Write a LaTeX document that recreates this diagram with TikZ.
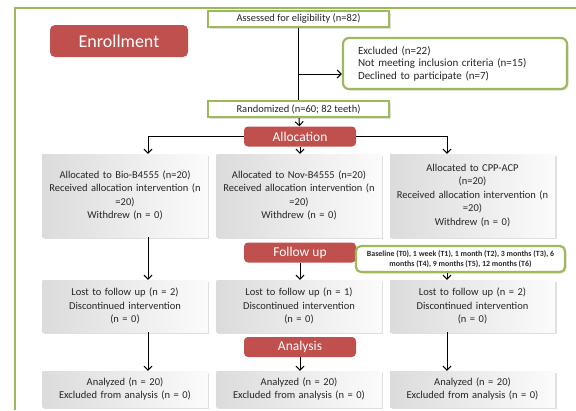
\documentclass[tikz,border=0pt]{standalone}
\usepackage{fontspec}
\setmainfont{Carlito}
\usetikzlibrary{positioning,arrows.meta,shadows}
\definecolor{stagered}{RGB}{192,80,77}
\definecolor{framegreen}{RGB}{155,187,89}

\begin{document}
\begin{tikzpicture}[x=1pt, y=-1pt,
  gbox/.style={draw=framegreen, line width=2.2pt, fill=white, text=black!85, font=\fontsize{10.5}{12.5}\selectfont, inner sep=2pt, drop shadow={opacity=0.25, shadow xshift=1.5pt, shadow yshift=-1.5pt}},
  stage/.style={fill=stagered, rounded corners=4pt, text=white, minimum width=112pt, minimum height=20pt, font=\fontsize{13.5}{15}\selectfont, inner sep=0pt},
  arm/.style={left color=gray!28, right color=gray!3, draw=none, align=center, text width=163pt, minimum width=165pt, inner sep=0pt, text=black!85, font=\fontsize{10.5}{13.5}\selectfont, drop shadow={opacity=0.25, shadow xshift=1.5pt, shadow yshift=-1.5pt}},
  arr/.style={-{Straight Barb[length=4pt,width=8pt]}, line width=1pt}]
\useasboundingbox (0,0) rectangle (576,410);
% frame
\draw[framegreen, line width=2pt] (15,410) -- (15,8) -- (576,8);
% enrollment
\node[stage, minimum width=138pt, minimum height=32pt, rounded corners=5pt, font=\fontsize{18}{20}\selectfont] (enrol) at (119,41) {Enrollment};
\node[gbox, minimum width=181pt, minimum height=16pt] (assess) at (298.5,19) {Assessed for eligibility (n=82)};
\node[gbox, rounded corners=6pt, minimum width=224pt, minimum height=51pt, align=left, text width=194pt, font=\fontsize{11}{12.5}\selectfont] (excl) at (455,63.5) {Excluded (n=22)\\Not meeting inclusion criteria (n=15)\\Declined to participate (n=7)};
\node[gbox, minimum width=181pt, minimum height=16pt] (rand) at (298.5,109) {Randomized (n=60; 82 teeth)};
\coordinate (split) at (298.5,74);
% allocation
\node[stage] (alloc) at (300,136.5) {Allocation};
\coordinate (colA) at (148,0);
\coordinate (colC) at (447,0);
\node[arm, minimum height=83pt] (bio) at (125,195.5) {Allocated to Bio-B4555 (n=20)\\Received allocation intervention (n\\=20)\\Withdrew (n = 0)};
\node[arm, minimum height=83pt] (nov) at (299,195.5) {Allocated to Nov-B4555 (n=20)\\Received allocation intervention (n\\=20)\\Withdrew (n = 0)};
\node[arm, minimum height=83pt] (cpp) at (472.5,195.5) {Allocated to CPP-ACP\\(n=20)\\Received allocation intervention (n\\=20)\\Withdrew (n = 0)};
% follow up
\node[stage] (follow) at (300,252.5) {Follow up};
\node[gbox, rounded corners=5pt, minimum width=209pt, minimum height=26pt, align=center, font=\bfseries\fontsize{7.9}{10}\selectfont] (sched) at (460.5,259) {Baseline (T0), 1 week (T1), 1 month (T2), 3 months (T3), 6\\months (T4), 9 months (T5), 12 months (T6)};
\node[arm, minimum height=52pt] (lostbio) at (125,306) {Lost to follow up (n = 2)\\Discontinued intervention\\(n = 0)};
\node[arm, minimum height=52pt] (lostnov) at (299,306) {Lost to follow up (n = 1)\\Discontinued intervention\\(n = 0)};
\node[arm, minimum height=52pt] (lostcpp) at (472.5,306) {Lost to follow up (n = 2)\\Discontinued intervention\\(n = 0)};
% analysis
\node[stage] (analy) at (300,347) {Analysis};
\node[arm, minimum height=36pt] (anbio) at (125,389) {Analyzed (n = 20)\\Excluded from analysis (n = 0)};
\node[arm, minimum height=36pt] (annov) at (299,389) {Analyzed (n = 20)\\Excluded from analysis (n = 0)};
\node[arm, minimum height=36pt] (ancpp) at (472.5,389) {Analyzed (n = 20)\\Excluded from analysis (n = 0)};
% connectors
\draw[line width=1pt] (assess) -- (rand);
\draw[arr] (split) -- (split -| excl.west);
\draw[arr] (rand) -- (alloc);
\draw[arr] (alloc.west) -| (bio.north -| colA);
\draw[arr] (alloc.east) -| (cpp.north -| colC);
\draw[arr] (alloc.south) -- (alloc.south |- nov.north);
\draw[arr] (bio.south -| colA) -- (lostbio.north -| colA);
\draw[arr] (follow.south) -- (follow.south |- lostnov.north);
\draw[arr] (sched.south -| colC) -- (lostcpp.north -| colC);
\draw[arr] (lostbio.south -| colA) -- (anbio.north -| colA);
\draw[arr] (analy.south) -- (analy.south |- annov.north);
\draw[arr] (lostcpp.south -| colC) -- (ancpp.north -| colC);
\end{tikzpicture}
\end{document}
